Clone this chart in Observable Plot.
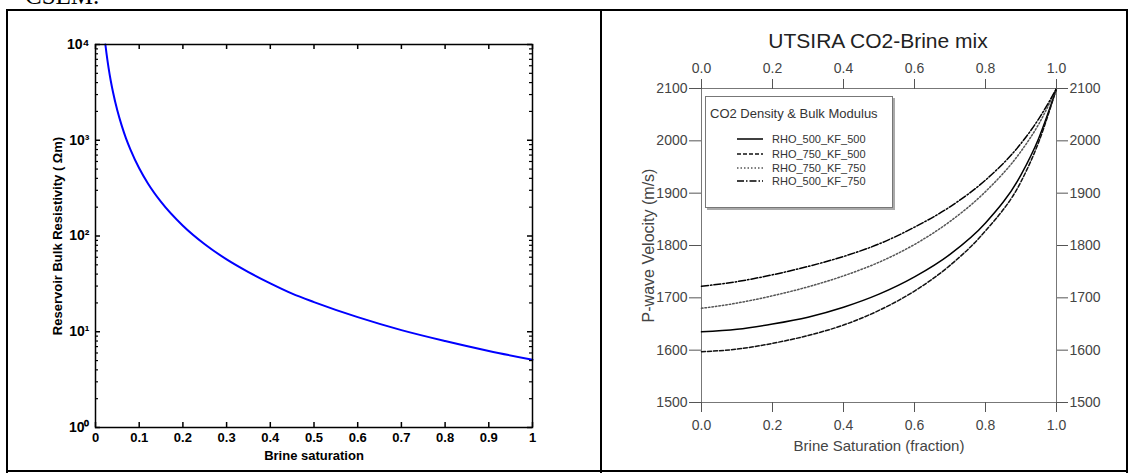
<!DOCTYPE html>
<html><head><meta charset="utf-8">
<script src="https://cdn.jsdelivr.net/npm/d3@7"></script>
<script src="https://cdn.jsdelivr.net/npm/@observablehq/plot@0.6"></script>
<style>
body{margin:0;background:#fff;}
#page{position:relative;width:1134px;height:473px;overflow:hidden;background:#fff;}
.b{position:absolute;background:#000;}
#cap{position:absolute;left:25px;top:-17px;font-family:"Liberation Serif","Times New Roman",serif;font-size:25px;line-height:25px;color:#000;}
#left{position:absolute;left:9px;top:11px;}
#right{position:absolute;left:603px;top:11px;}
#title{position:absolute;left:728px;width:300px;top:29px;text-align:center;font-family:"Liberation Sans",Arial,sans-serif;font-size:21px;line-height:24px;color:#222;}
#legend{position:absolute;left:705px;top:96px;width:186px;height:110px;border:1px solid #777;box-shadow:2px 2px 0 #aaa;background:#fff;font-family:"Liberation Sans",Arial,sans-serif;color:#333;}
#legend .t{position:absolute;left:4px;top:9px;font-size:13px;line-height:15px;white-space:nowrap;}
#legend .r{position:absolute;left:0;width:186px;height:14px;}
#legend .r span{position:absolute;left:66px;top:0;font-size:11px;line-height:14px;white-space:nowrap;}
#legend .r svg{position:absolute;left:31px;top:0;}
</style></head><body>
<div id="page">
  <div id="cap">CSEM.</div>
  <div class="b" style="left:6px;top:9px;width:1122px;height:2px"></div>
  <div class="b" style="left:6px;top:9px;width:2px;height:464px"></div>
  <div class="b" style="left:600px;top:9px;width:2px;height:464px"></div>
  <div class="b" style="left:1126px;top:9px;width:2px;height:464px"></div>
  <div class="b" style="left:6px;top:470px;width:1122px;height:2px"></div>
  <div id="left"></div>
  <div id="right"></div>
  <div id="title">UTSIRA CO2-Brine mix</div>
  <div id="legend"></div>
</div>
<script>
// ---- Left panel data: reservoir bulk resistivity vs brine saturation ----
const brineSatLeft = [0.0226,0.025,0.03,0.035,0.04,0.05,0.06,0.07,0.08,0.1,0.12,0.15,0.2,0.25,0.3,0.35,0.4,0.45,0.5,0.6,0.7,0.8,0.9,1.0];
const resistivity  = [10000,8160,5670,4160,3190,2040,1420,1040,800,510,354,227,128,82,57,42,32,25,20.4,14.2,10.4,8.0,6.3,5.1];
const xTicksLeft = [0,0.1,0.2,0.3,0.4,0.5,0.6,0.7,0.8,0.9,1];
const yDecades = [1,10,100,1000,10000];
const supDigits = ["\u2070","\u00B9","\u00B2","\u00B3","\u2074"];

// ---- Right panel data: P-wave velocity vs brine saturation ----
const brineSatRight = [0,0.1,0.2,0.3,0.4,0.5,0.6,0.7,0.8,0.9,0.95,1.0];
const vp_RHO_500_KF_500 = [1635,1640,1650,1663,1682,1707,1740,1783,1843,1935,2005,2100];
const vp_RHO_750_KF_500 = [1597,1602,1613,1628,1648,1676,1713,1762,1828,1922,1998,2100];
const vp_RHO_750_KF_750 = [1680,1690,1704,1721,1742,1768,1802,1846,1903,1980,2032,2100];
const vp_RHO_500_KF_750 = [1722,1731,1744,1760,1779,1803,1835,1874,1925,1995,2042,2100];
const seriesNames = ["RHO_500_KF_500","RHO_750_KF_500","RHO_750_KF_750","RHO_500_KF_750"];
const seriesDash = ["none","4,2","1.5,2","7,2,1.5,2"];
const seriesColor = ["#000","#111","#555","#000"];
const xTicksRight = [0,0.2,0.4,0.6,0.8,1.0];
const yTicksRight = [1500,1600,1700,1800,1900,2000,2100];

// ---------- Left plot ----------
const LW = 590, LH = 458, Lml = 86, Lmr = 67, Lmt = 33, Lmb = 42;
const Lfw = LW - Lml - Lmr, Lfh = LH - Lmt - Lmb;
const minorTicks = [];
for (const d of yDecades.slice(0, -1)) for (const k of d3.range(2, 10)) minorTicks.push(d * k);
const leftData = brineSatLeft.map((s, i) => ({s, r: resistivity[i]}));

const leftPlot = Plot.plot({
  width: LW, height: LH,
  marginLeft: Lml, marginRight: Lmr, marginTop: Lmt, marginBottom: Lmb,
  style: {fontFamily: "'Liberation Sans', Arial, sans-serif", fontSize: "13px", fontWeight: "bold", color: "#000", background: "transparent"},
  x: {domain: [0, 1]},
  y: {type: "log", domain: [1, 10000]},
  marks: [
    Plot.line(leftData, {x: "s", y: "r", stroke: "#0000ff", strokeWidth: 2, curve: "monotone-x"}),
    Plot.frame({stroke: "#000", strokeWidth: 1.5}),
    Plot.axisX(xTicksLeft, {anchor: "bottom", tickSize: 0, tickPadding: 5, fontSize: 13, fontWeight: "bold", tickFormat: d => String(d), label: null}),
    Plot.axisY(yDecades, {anchor: "left", tickSize: 0, tickPadding: 6, fontSize: 14, fontWeight: "bold", tickFormat: d => "10" + supDigits[Math.round(Math.log10(d))], label: null}),
    Plot.tickX(xTicksLeft, {insetTop: Lfh - 5, stroke: "#000", strokeWidth: 1.5}),
    Plot.tickX(xTicksLeft, {insetBottom: Lfh - 5, stroke: "#000", strokeWidth: 1.5}),
    Plot.tickY(yDecades, {insetRight: Lfw - 5, stroke: "#000", strokeWidth: 1.5}),
    Plot.tickY(yDecades, {insetLeft: Lfw - 5, stroke: "#000", strokeWidth: 1.5}),
    Plot.tickY(minorTicks, {insetRight: Lfw - 3, stroke: "#000", strokeWidth: 1.2}),
    Plot.tickY(minorTicks, {insetLeft: Lfw - 3, stroke: "#000", strokeWidth: 1.2}),
    Plot.text(["Brine saturation"], {frameAnchor: "bottom", textAnchor: "middle", dy: 32, fontSize: 13, fontWeight: "bold"}),
    Plot.text(["Reservoir Bulk Resistivity ( \u03A9m)"], {frameAnchor: "left", textAnchor: "middle", dx: -38, rotate: -90, fontSize: 13, fontWeight: "bold"})
  ]
});
document.getElementById("left").appendChild(leftPlot);

// ---------- Right plot ----------
const RW = 520, RH = 458, Rml = 98, Rmr = 67, Rmt = 77, Rmb = 67;
const allSeries = [vp_RHO_500_KF_500, vp_RHO_750_KF_500, vp_RHO_750_KF_750, vp_RHO_500_KF_750];
const lineMarks = allSeries.map((vals, k) =>
  Plot.line(brineSatRight.map((s, i) => ({s, v: vals[i]})), {
    x: "s", y: "v", stroke: seriesColor[k], strokeWidth: 1.5,
    strokeDasharray: seriesDash[k] === "none" ? null : seriesDash[k], curve: "monotone-x"
  })
);
const rightPlot = Plot.plot({
  width: RW, height: RH,
  marginLeft: Rml, marginRight: Rmr, marginTop: Rmt, marginBottom: Rmb,
  style: {fontFamily: "'Liberation Sans', Arial, sans-serif", fontSize: "14px", color: "#444", background: "transparent"},
  x: {domain: [0, 1]},
  y: {domain: [1500, 2100]},
  marks: [
    Plot.frame({stroke: "#777"}),
    ...lineMarks,
    Plot.axisX(xTicksRight, {anchor: "bottom", tickSize: 10, tickPadding: 8, fontSize: 14, stroke: "#555", tickFormat: d => d.toFixed(1), label: null}),
    Plot.axisX(xTicksRight, {anchor: "top", tickSize: 10, tickPadding: 6, fontSize: 14, stroke: "#555", tickFormat: d => d.toFixed(1), label: null}),
    Plot.axisY(yTicksRight, {anchor: "left", tickSize: 12, tickPadding: 2, fontSize: 14, stroke: "#555", tickFormat: d => String(d), label: null}),
    Plot.axisY(yTicksRight, {anchor: "right", tickSize: 11, tickPadding: 2, fontSize: 14, stroke: "#555", tickFormat: d => String(d), label: null}),
    Plot.text(["Brine Saturation (fraction)"], {frameAnchor: "bottom", textAnchor: "middle", dy: 48, fontSize: 15}),
    Plot.text(["P-wave Velocity (m/s)"], {frameAnchor: "left", textAnchor: "middle", dx: -53, rotate: -90, fontSize: 16})
  ]
});
document.getElementById("right").appendChild(rightPlot);

// ---------- Legend ----------
const legend = document.getElementById("legend");
const lt = document.createElement("div");
lt.className = "t"; lt.textContent = "CO2 Density & Bulk Modulus";
legend.appendChild(lt);
const rowTops = [35, 50, 64, 77];
seriesNames.forEach((name, k) => {
  const row = document.createElement("div");
  row.className = "r"; row.style.top = rowTops[k] + "px";
  const dash = seriesDash[k] === "none" ? "" : `stroke-dasharray="${seriesDash[k]}"`;
  row.innerHTML = `<svg width="26" height="14"><line x1="0" x2="26" y1="7" y2="7" stroke="${seriesColor[k]}" stroke-width="1.5" ${dash}/></svg><span>${name}</span>`;
  legend.appendChild(row);
});
</script>
</body></html>
